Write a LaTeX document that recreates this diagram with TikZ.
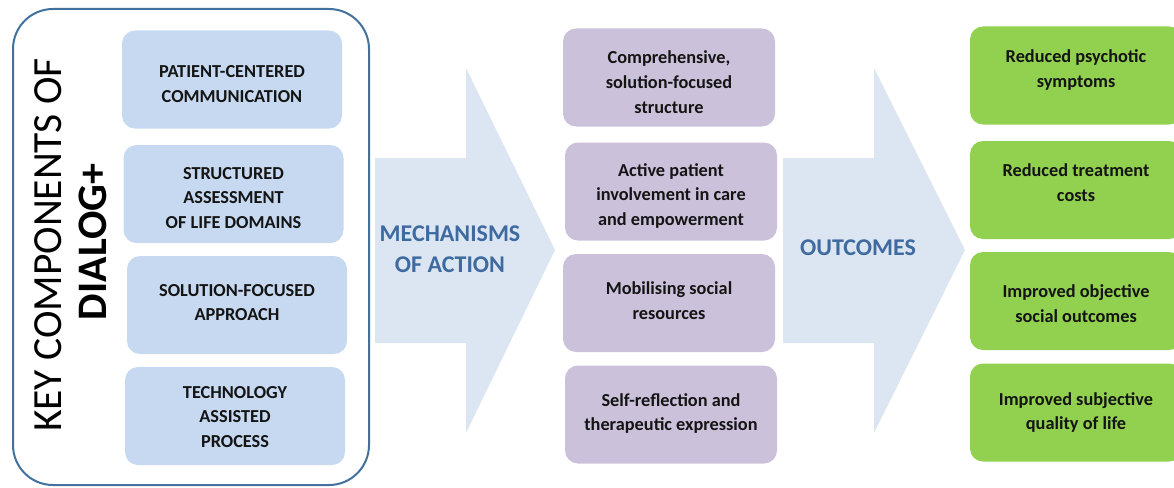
\documentclass[tikz,border=0pt]{standalone}
\usepackage{fontspec}
\setmainfont{Carlito}
\definecolor{compblue}{RGB}{198,217,240}
\definecolor{mechpurple}{RGB}{204,193,218}
\definecolor{outgreen}{RGB}{146,208,80}
\definecolor{arrowfill}{RGB}{220,230,242}
\definecolor{framecol}{RGB}{65,113,156}
\definecolor{headcol}{RGB}{62,106,160}
\definecolor{txt}{RGB}{20,20,20}
\tikzset{
  card/.style={rounded corners=13pt, inner sep=0pt},
  compbox/.style={card, fill=compblue, minimum width=220pt, minimum height=98pt},
  mechbox/.style={card, fill=mechpurple, minimum width=212pt, minimum height=98pt},
  outbox/.style={card, fill=outgreen, minimum width=212pt, minimum height=98pt},
  cardtext/.style={inner sep=0pt, align=center, text=txt,
    font=\bfseries\fontsize{18.3}{24.8}\selectfont},
  arrowshape/.style={fill=arrowfill, draw=none},
  headtext/.style={text=headcol, align=center, font=\bfseries\fontsize{24}{31}\selectfont}
}
\begin{document}
\begin{tikzpicture}[x=1pt,y=-1pt]
\useasboundingbox (0,0) rectangle (1174,487);
% outer frame
\draw[framecol, line width=2pt, rounded corners=40pt] (13,9) rectangle (369,485);
\node[rotate=90, font=\fontsize{41.5}{44}\selectfont, text=black] (key) at (48,245) {KEY COMPONENTS OF};
\node[rotate=90, font=\bfseries\fontsize{42}{44}\selectfont, text=black] (dialog) at (93,242) {DIALOG+};
% components
\node[compbox] (c1) at (232,79.5) {};
\node[cardtext] (c1t) at ([yshift=-4.5pt]c1.center) {PATIENT-CENTERED\\COMMUNICATION};
\node[compbox] (c2) at (233.5,194) {};
\node[cardtext] (c2t) at ([yshift=-4pt]c2.center) {STRUCTURED\\ASSESSMENT\\OF LIFE DOMAINS};
\node[compbox] (c3) at (237,305) {};
\node[cardtext] (c3t) at ([yshift=2.5pt]c3.center) {SOLUTION-FOCUSED\\APPROACH};
\node[compbox] (c4) at (235,416) {};
\node[cardtext] (c4t) at ([yshift=-1pt]c4.center) {TECHNOLOGY\\ASSISTED\\PROCESS};
% arrows
\fill[arrowshape] (375,158) -- (466,158) -- (466,68) -- (555,250) -- (466,433) -- (466,343) -- (375,343) -- cycle;
\node[headtext] (mech) at (450,249) {MECHANISMS\\OF ACTION};
\fill[arrowshape] (783,158) -- (874,158) -- (874,68) -- (965,250) -- (874,433) -- (874,343) -- (783,343) -- cycle;
\node[headtext] (outc) at (858,248) {OUTCOMES};
% mechanisms
\node[mechbox] (m1) at (669,77.5) {};
\node[cardtext] (m1t) at ([yshift=-4.5pt]m1.center) {Comprehensive,\\solution-focused\\structure};
\node[mechbox] (m2) at (671,191.5) {};
\node[cardtext] (m2t) at ([yshift=-4.5pt]m2.center) {Active patient\\involvement in care\\and empowerment};
\node[mechbox] (m3) at (669,303) {};
\node[cardtext] (m3t) at ([yshift=2.5pt]m3.center) {Mobilising social\\resources};
\node[mechbox] (m4) at (671,414.5) {};
\node[cardtext] (m4t) at ([yshift=1pt]m4.center) {Self-reflection and\\therapeutic expression};
% outcomes
\node[outbox] (o1) at (1076,75.5) {};
\node[cardtext] (o1t) at ([yshift=5.5pt]o1.center) {Reduced psychotic\\symptoms};
\node[outbox] (o2) at (1076,190) {};
\node[cardtext] (o2t) at ([yshift=7pt]o2.center) {Reduced treatment\\costs};
\node[outbox] (o3) at (1076,301) {};
\node[cardtext] (o3t) at ([yshift=-2.5pt]o3.center) {Improved objective\\social outcomes};
\node[outbox] (o4) at (1076,412.5) {};
\node[cardtext] (o4t) at (o4.center) {Improved subjective\\quality of life};
\end{tikzpicture}
\end{document}
